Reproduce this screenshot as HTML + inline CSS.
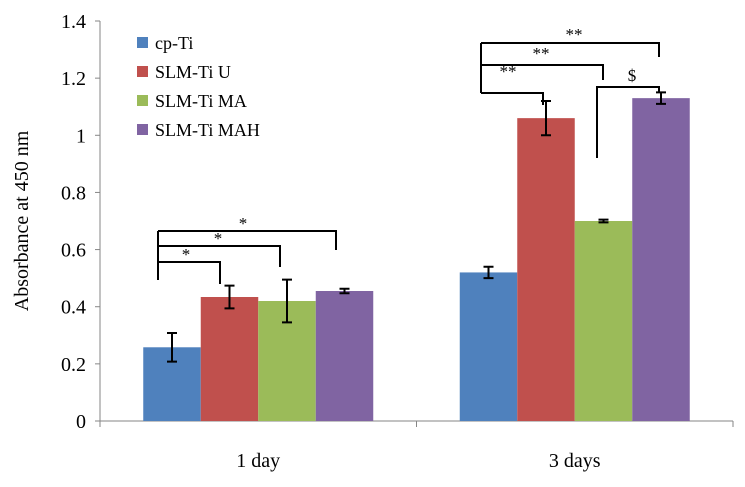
<!DOCTYPE html>
<html><head><meta charset="utf-8"><style>
body{margin:0;background:#fff}
svg{font-family:"Liberation Serif",serif}
</style></head><body>
<svg id="c" width="745" height="482" viewBox="0 0 745 482"></svg>
<script>
const categories=["1 day","3 days"];
const seriesNames=["cp-Ti","SLM-Ti U","SLM-Ti MA","SLM-Ti MAH"];
const colors=["#4f81bd","#c0504d","#9bbb59","#8064a2"];
const values=[[0.258,0.52],[0.434,1.06],[0.42,0.70],[0.455,1.13]];
const errors=[[0.05,0.02],[0.04,0.06],[0.075,0.005],[0.008,0.02]];
const yTicks=[0,0.2,0.4,0.6,0.8,1,1.2,1.4];
const NS="http://www.w3.org/2000/svg";
const svg=document.getElementById('c');
const x0=100,x1=733,yBase=421,yTop=21,yMax=1.4;
const y=v=>yBase-(v/yMax)*(yBase-yTop);
const catW=(x1-x0)/categories.length, barW=57.5;
const barX=(c,s)=>x0+catW*c+catW/2+(s-2)*barW;
function el(t,a,txt){const e=document.createElementNS(NS,t);for(const k in a)e.setAttribute(k,a[k]);if(txt!==undefined)e.textContent=txt;svg.appendChild(e);return e;}
let ax=el('line',{x1:x0,y1:yTop,x2:x0,y2:yBase,stroke:'#868686'});

ax=el('line',{x1:x0,y1:yBase,x2:x1,y2:yBase,stroke:'#868686'});

yTicks.forEach(t=>{
 let l=el('line',{x1:x0-5,y1:y(t),x2:x0,y2:y(t),stroke:'#868686'});
 
 let tx=el('text',{x:86,y:y(t)+7,'text-anchor':'end','font-size':20},String(t));
 
});
for(let i=0;i<=categories.length;i++){
 let l=el('line',{x1:x0+catW*i,y1:yBase,x2:x0+catW*i,y2:yBase+6,stroke:'#868686'});
 
}
categories.forEach((c,i)=>{
 let tx=el('text',{x:x0+catW*i+catW/2,y:467,'text-anchor':'middle','font-size':20},c);
 
});
let yt=el('text',{x:0,y:0,'text-anchor':'middle','font-size':20,transform:'translate(28,221) rotate(-90)'},'Absorbance at 450 nm');

seriesNames.forEach((n,s)=>{
 categories.forEach((c,ci)=>{
  const v=values[s][ci],e=errors[s][ci],bx=barX(ci,s);
  let r=el('rect',{x:bx,y:y(v),width:barW,height:yBase-y(v),fill:colors[s]});
  
  const cx=bx+barW/2;
  let eb=el('path',{d:`M${cx},${y(v+e)}V${y(v-e)}M${cx-5},${y(v+e)}H${cx+5}M${cx-5},${y(v-e)}H${cx+5}`,stroke:'#000','stroke-width':2,fill:'none'});
  
 });
 let sq=el('rect',{x:137,y:37+s*29,width:11,height:11,fill:colors[s]});
 
 let lt=el('text',{x:155,y:49+s*29,'font-size':18},n);
 
});
function br(d,name){let p=el('path',{d,stroke:'#000','stroke-width':2,fill:'none'});}
function lab(x,yy,t){let tx=el('text',{x,y:yy,'text-anchor':'middle','font-size':17},t);}
br('M158,231V280M158,262H220V284M158,246H280V267M158,231H336V250','significance-brackets-1day');
lab(186,260,'*');lab(218,244,'*');lab(243,229,'*');
br('M481,43V93M481,93H543V105M481,65H603V80M481,43H659V57','significance-brackets-3days');
lab(508,77,'**');lab(541,59,'**');lab(574,40,'**');
br('M597,158V87H659V93','significance-bracket-dollar');
lab(632,81,'$');
</script>
</body></html>
